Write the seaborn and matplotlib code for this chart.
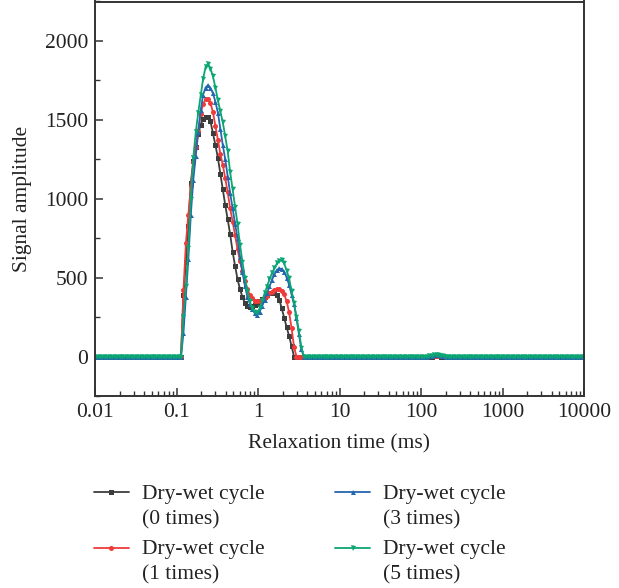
import numpy as np
import pandas as pd
import matplotlib
matplotlib.use("Agg")
import matplotlib.pyplot as plt
import seaborn as sns
from matplotlib.lines import Line2D
from matplotlib.legend_handler import HandlerLine2D
from matplotlib.ticker import LogLocator, FixedLocator, MultipleLocator, NullFormatter

# ---------------- data ----------------
# T2 relaxation-time grid (ms): 200 log-spaced inversion points, 0.01 .. 10000
t2_ms = np.logspace(-2, 4, 200)

labels = ["Dry-wet cycle\n(0 times)", "Dry-wet cycle\n(1 times)",
          "Dry-wet cycle\n(3 times)", "Dry-wet cycle\n(5 times)"]

# signal amplitude of the main peaks (grid points 36..84)
peak_0 = [390, 600, 830, 1100, 1240, 1330, 1410, 1470, 1505, 1520, 1520, 1490, 1415,
          1340, 1260, 1160, 1060, 960, 870, 775, 665, 575, 490, 428, 377, 340, 318,
          315, 318, 325, 335, 350, 365, 380, 392, 400, 405, 403, 390, 360, 305, 245,
          185, 130, 65, 0, 0, 0, 0]
peak_1 = [420, 720, 900, 1080, 1230, 1330, 1430, 1540, 1600, 1630, 1632, 1605, 1550,
          1460, 1375, 1285, 1215, 1130, 1040, 940, 855, 770, 680, 605, 540, 480, 430,
          390, 368, 355, 350, 352, 360, 372, 385, 400, 412, 422, 428, 427, 418, 395,
          350, 280, 180, 60, 0, 0, 0]
peak_3 = [150, 380, 620, 900, 1120, 1270, 1420, 1560, 1660, 1705, 1720, 1702, 1668,
          1615, 1545, 1445, 1340, 1250, 1140, 1035, 940, 840, 750, 630, 535, 450, 380,
          335, 300, 275, 265, 285, 318, 360, 400, 445, 485, 520, 548, 558, 555, 538,
          500, 455, 392, 330, 245, 140, 45]
peak_5 = [250, 450, 690, 1000, 1260, 1420, 1545, 1655, 1760, 1835, 1855, 1825, 1775,
          1705, 1625, 1555, 1485, 1395, 1300, 1170, 1060, 945, 840, 710, 600, 500, 415,
          350, 305, 282, 278, 305, 350, 400, 443, 490, 528, 560, 590, 605, 610, 590,
          545, 495, 415, 340, 250, 160, 55]
# small bump near 180 ms (grid points 136..142)
bump_0 = [0, 0, 2, 3, 2, 0, 0]
bump_1 = [1, 3, 5, 6, 5, 3, 1]
bump_3 = [2, 5, 8, 9, 8, 5, 2]
bump_5 = [2, 6, 9, 11, 9, 6, 2]

# baseline zeros (grid points 0..35, 85..135, 143..199)
base_left = [0] * 36
base_mid = [0] * 51
base_right = [0] * 57

amp_0 = base_left + peak_0 + base_mid + bump_0 + base_right
amp_1 = base_left + peak_1 + base_mid + bump_1 + base_right
amp_3 = base_left + peak_3 + base_mid + bump_3 + base_right
amp_5 = base_left + peak_5 + base_mid + bump_5 + base_right

series = [amp_0, amp_1, amp_3, amp_5]
colors = ["#3d3d3d", "#ef3b39", "#2566b0", "#0ca574"]
markers = ["s", "o", "^", "v"]

x_ticks = [0.01, 0.1, 1, 10, 100, 1000, 10000]
x_ticklabels = ["0.01", "0.1", "1", "10", "100", "1000", "10000"]
y_ticks = [0, 500, 1000, 1500, 2000]

FS = 15.5
LINESP = 1.42

# ---------------- style ----------------
sns.set_theme(style="white")
plt.rcParams["font.family"] = ["Liberation Serif", "DejaVu Serif"]
plt.rcParams["mathtext.fontset"] = "dejavuserif"

fig = plt.figure(figsize=(6.19, 5.88), dpi=100)
ax = fig.add_axes([95 / 619, 1 - 396 / 588, (584 - 95) / 619, (396 - 1.5) / 588])

for amp, lab, c, m in zip(series, labels, colors, markers):
    df = pd.DataFrame({"t": t2_ms, "a": amp})
    sns.lineplot(data=df, x="t", y="a", ax=ax, color=c, marker=m, markersize=3.6,
                 markeredgewidth=0, linewidth=1.3, label=lab, estimator=None,
                 sort=False)

ax.set_xscale("log")
ax.set_xlim(0.01, 10000)
ax.set_ylim(-250, 2250)
ax.xaxis.set_major_locator(FixedLocator(x_ticks))
ax.set_xticklabels(x_ticklabels)
ax.xaxis.set_minor_locator(LogLocator(base=10, subs=np.arange(2, 10), numticks=100))
ax.xaxis.set_minor_formatter(NullFormatter())
ax.yaxis.set_major_locator(FixedLocator(y_ticks))
ax.yaxis.set_minor_locator(MultipleLocator(250))

ax.tick_params(axis="both", which="major", direction="in", length=6, width=1.1,
               labelsize=FS, pad=5, color="#333333", labelcolor="#222222",
               top=False, right=False, bottom=True, left=True)
ax.tick_params(axis="both", which="minor", direction="in", length=3.5, width=1.0,
               color="#333333", top=False, right=False, bottom=True, left=True)
for s in ax.spines.values():
    s.set_visible(True)
    s.set_linewidth(1.4)
    s.set_color("#333333")

ax.set_xlabel("Relaxation time (ms)", fontsize=FS, labelpad=9, color="#222222")
ax.set_ylabel("Signal amplitude", fontsize=FS, labelpad=9, color="#222222")


class FirstLineHandler(HandlerLine2D):
    """Place the legend line at the height of the first label line."""
    def create_artists(self, legend, orig_handle, xdescent, ydescent, width,
                       height, fontsize, trans):
        arts = super().create_artists(legend, orig_handle, xdescent, ydescent,
                                      width, height, fontsize, trans)
        shift = 0.5 * LINESP * 0.93 * fontsize
        for a in arts:
            a.set_ydata(np.asarray(a.get_ydata(), dtype=float) + shift)
        return arts


ax.get_legend().remove()
handles, labs = ax.get_legend_handles_labels()
leg = fig.legend(handles, labs, loc="upper left",
                 bbox_to_anchor=(94 / 619, 1 - 485 / 588),
                 ncol=2, frameon=False, fontsize=FS, handlelength=1.62,
                 handletextpad=0.6, columnspacing=3.3, labelspacing=0.52,
                 borderaxespad=0, borderpad=0,
                 handler_map={Line2D: FirstLineHandler()})
for t in leg.get_texts():
    t.set_linespacing(LINESP)
    t.set_color("#222222")

fig.savefig("out.png", dpi=100)
